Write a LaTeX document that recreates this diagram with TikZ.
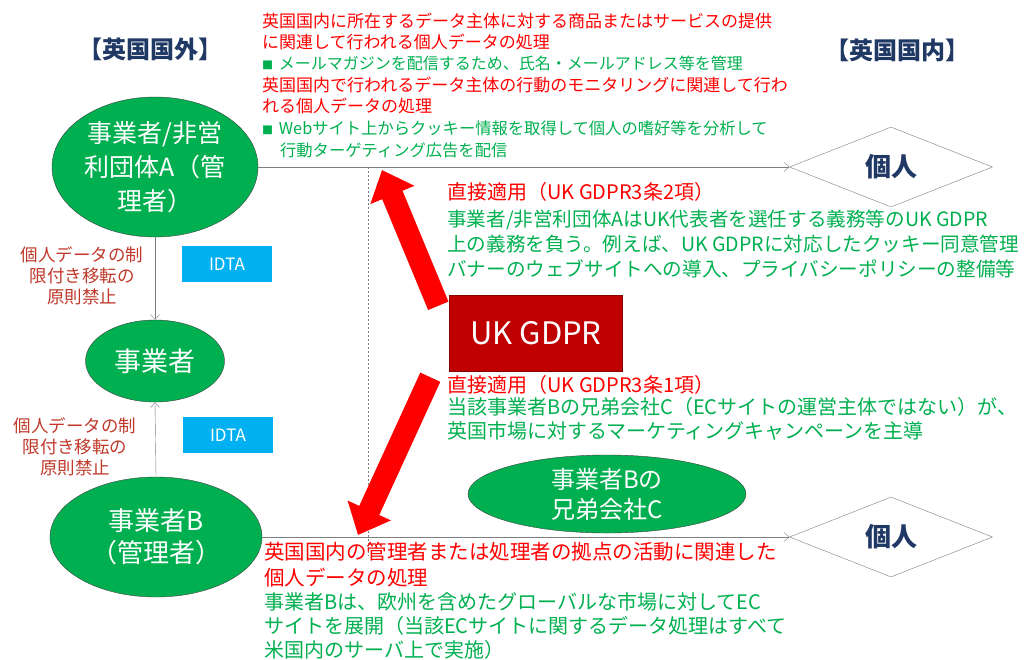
\documentclass[tikz,border=0pt]{standalone}
\usepackage{fontspec}
\setmainfont{Noto Sans CJK JP}
\usepackage{xcolor}
\usetikzlibrary{shapes.geometric, positioning, arrows.meta, calc}
\definecolor{GreenFill}{HTML}{00B050}
\definecolor{EdgeGray}{HTML}{3F3F3F}
\definecolor{LineGray}{HTML}{7F7F7F}
\definecolor{NavyText}{HTML}{1F3864}
\definecolor{TextRed}{HTML}{FF0000}
\definecolor{TextGreen}{HTML}{00B050}
\definecolor{LabelRed}{HTML}{C0392B}
\definecolor{IdtaCyan}{HTML}{00B0F0}
\definecolor{GdprRed}{HTML}{C00000}
\definecolor{ArrowRed}{HTML}{FF0000}
\newcommand{\notebullet}{{\fontsize{11}{11}\selectfont ■}\hspace{0.35em}}

\begin{document}
\begin{tikzpicture}[
    x=1pt, y=-1pt,
    actor/.style={
      ellipse, fill=GreenFill, draw=EdgeGray, thin,
      inner sep=0pt, align=center, text=white
    },
    person/.style={
      diamond, draw=LineGray, thin, inner sep=0pt,
      minimum width=203pt, minimum height=80pt,
      text=NavyText, font=\fontsize{26}{30}\selectfont\bfseries
    },
    idta/.style={
      rectangle, fill=IdtaCyan, minimum width=90pt, minimum height=36pt,
      text=white, font=\fontsize{17}{20}\selectfont
    },
    region/.style={font=\fontsize{24}{28}\selectfont\bfseries, text=NavyText},
    ban/.style={align=center, inner sep=0pt, text=LabelRed, font=\fontsize{17.5}{21}\selectfont},
    note/.style={inner sep=0pt, align=left, anchor=west},
    flow/.style={draw=LineGray, thin, -{Straight Barb[length=5pt,width=9pt]}},
    bigarrow/.style={draw=ArrowRed, line width=22pt, -{Triangle[length=27pt,width=46pt]}}
  ]
    \fill[white] (0,0) rectangle (1036,659);
    \useasboundingbox (0,0) rectangle (1036,659);

    %% Regions
    \node[region] (outside) at (150,49) {【英国国外】};
    \node[region] (inside) at (897,50) {【英国国内】};

    %% Actors outside the UK
    \node[actor, minimum width=206pt, minimum height=140pt, font=\fontsize{25}{34}\selectfont] (orgA) at (155,167) {事業者/非営\\利団体A（管\\理者）};
    \node[actor, minimum width=139pt, minimum height=82pt, font=\fontsize{27}{30}\selectfont] (proc) at (155,361) {事業者};
    \node[actor, minimum width=212pt, minimum height=120pt, font=\fontsize{26}{32}\selectfont] (orgB) at (156,537) {事業者B\\（管理者）};
    \node[actor, minimum width=278pt, minimum height=78pt, font=\fontsize{24}{30}\selectfont] (sisC) at (607,494) {事業者Bの\\兄弟会社C};

    %% Individuals in the UK
    \node[person] (indivA) at (891,167) {個人};
    \node[person] (indivB) at (891,537) {個人};

    %% Transfers
    \node[idta] (idtaA) at (227,264) {IDTA};
    \node[idta] (idtaB) at (228,435) {IDTA};
    \node[ban] (banA) at (82,276) {個人データの制\\限付き移転の\\原則禁止};
    \node[ban] (banB) at (75,447) {個人データの制\\限付き移転の\\原則禁止};

    %% Draw arrows
    \draw[flow] (orgA.east) -- (indivA.west);
    \draw[flow] (orgB.east) -- (indivB.west);
    \draw[flow] (orgA.south) -- (proc.north);
    \draw[flow] (orgB.north) -- (proc.south);

    \coordinate (dotTop) at (368,167);
    \coordinate (dotBot) at (368,556);
    \draw[LineGray, dash pattern=on 2pt off 2pt] (dotTop) -- (dotBot);

    %% UK GDPR
    \coordinate (hitA) at (382,170);
    \coordinate (hitB) at (358,535);
    \node[rectangle, fill=GdprRed, draw=GdprRed!70!black, minimum width=173pt, minimum height=76pt,
      text=white, font=\fontsize{31}{34}\selectfont] (gdpr) at (536,333) {UK GDPR};
    \draw[bigarrow] ($(gdpr.north west)+(-11,11)$) -- (hitA);
    \draw[bigarrow] ($(gdpr.south west)+(-19,6)$) -- (hitB);

    %% Notes
    \node[note, text=TextRed, font=\fontsize{17}{21.5}\selectfont] (goods) at (262,31.5) {英国国内に所在するデータ主体に対する商品またはサービスの提供\\に関連して行われる個人データの処理};
    \node[note, text=TextGreen, font=\fontsize{16}{21.5}\selectfont] (goodsEx) at (262,63) {\notebullet メールマガジンを配信するため、氏名・メールアドレス等を管理};
    \node[note, text=TextRed, font=\fontsize{17}{21.5}\selectfont] (monitor) at (262,95.5) {英国国内で行われるデータ主体の行動のモニタリングに関連して行わ\\れる個人データの処理};
    \node[note, text=TextGreen, font=\fontsize{16.3}{22}\selectfont] (monitorEx) at (262,139) {\notebullet Webサイト上からクッキー情報を取得して個人の嗜好等を分析して\\\hspace*{1.1em}行動ターゲティング広告を配信};

    \node[note, text=TextRed, font=\fontsize{20}{25}\selectfont] (artTwo) at (447,192) {直接適用（UK GDPR3条2項）};
    \node[note, text=TextGreen, font=\fontsize{19.6}{25}\selectfont] (artTwoEx) at (447,244) {事業者/非営利団体AはUK代表者を選任する義務等のUK GDPR\\上の義務を負う。例えば、UK GDPRに対応したクッキー同意管理\\バナーのウェブサイトへの導入、プライバシーポリシーの整備等};
    \node[note, text=TextRed, font=\fontsize{20}{25}\selectfont] (artOne) at (447,385) {直接適用（UK GDPR3条1項）};
    \node[note, text=TextGreen, font=\fontsize{20}{24}\selectfont] (artOneEx) at (447,419) {当該事業者Bの兄弟会社C（ECサイトの運営主体ではない）が、\\英国市場に対するマーケティングキャンペーンを主導};

    \node[note, text=TextRed, font=\fontsize{20.5}{26}\selectfont] (estab) at (264,565) {英国国内の管理者または処理者の拠点の活動に関連した\\個人データの処理};
    \node[note, text=TextGreen, font=\fontsize{20}{24}\selectfont] (estabEx) at (264,626) {事業者Bは、欧州を含めたグローバルな市場に対してEC\\サイトを展開（当該ECサイトに関するデータ処理はすべて\\米国内のサーバ上で実施）};
  \end{tikzpicture}
\end{document}
